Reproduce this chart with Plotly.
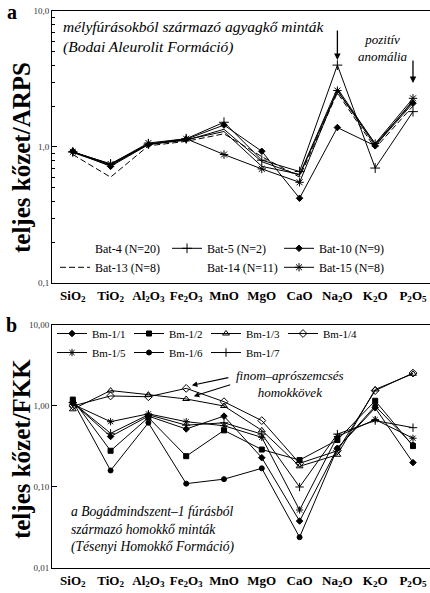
import plotly.graph_objects as go

# ---------------- data ----------------
categories = ["SiO2", "TiO2", "Al2O3", "Fe2O3", "MnO", "MgO", "CaO", "Na2O", "K2O", "P2O5"]
tick_labels = ["SiO<sub>2</sub>", "TiO<sub>2</sub>", "Al<sub>2</sub>O<sub>3</sub>", "Fe<sub>2</sub>O<sub>3</sub>",
               "MnO", "MgO", "CaO", "Na<sub>2</sub>O", "K<sub>2</sub>O", "P<sub>2</sub>O<sub>5</sub>"]

# panel a: teljes kőzet / ARPS
bat4 = [0.92, 0.74, 1.05, 1.12, 1.35, 0.78, 0.62, 2.60, 1.02, 2.20]
bat5 = [0.92, 0.75, 1.05, 1.15, 1.52, 0.80, 0.66, 4.00, 0.70, 1.82]
bat10 = [0.93, 0.72, 1.04, 1.14, 1.45, 0.93, 0.42, 1.39, 1.02, 2.10]
bat13 = [0.88, 0.60, 1.02, 1.10, 1.25, 0.85, 0.60, 2.50, 0.98, 2.00]
bat14 = [0.91, 0.73, 1.05, 1.13, 1.30, 0.72, 0.63, 2.70, 1.05, 2.15]
bat15 = [0.92, 0.75, 1.07, 1.15, 0.88, 0.69, 0.55, 2.60, 1.06, 2.28]

# panel b: teljes kőzet / FKK
bm1 = [1.10, 0.42, 0.75, 0.52, 0.75, 0.23, 0.038, 0.30, 0.95, 0.20]
bm2 = [1.20, 0.28, 0.72, 0.24, 0.50, 0.29, 0.215, 0.38, 1.16, 0.32]
bm3 = [0.91, 1.55, 1.38, 1.22, 1.00, 0.50, 0.18, 0.25, 1.60, 2.50]
bm4 = [1.00, 1.33, 1.30, 1.65, 1.13, 0.66, 0.196, 0.28, 1.55, 2.55]
bm5 = [1.05, 0.64, 0.80, 0.64, 0.57, 0.41, 0.052, 0.42, 0.68, 0.40]
bm6 = [1.15, 0.16, 0.62, 0.11, 0.125, 0.17, 0.024, 0.30, 1.00, 0.33]
bm7 = [1.10, 0.46, 0.78, 0.58, 0.62, 0.45, 0.10, 0.45, 0.66, 0.54]

top_ticks = [0.1, 1, 10]
top_ticktext = ["0,1", "1,0", "10,0"]
bot_ticks = [0.01, 0.1, 1, 10]
bot_ticktext = ["0,01", "0,10", "1,00", "10,00"]

SERIF = "Liberation Serif"
fig = go.Figure()


def add(y, name, ax, legend, rank, symbol=None, size=6, dash="solid", show=True, lw=1):
    mode = "lines+markers" if symbol else "lines"
    mk = dict(symbol=symbol, size=size, color="black", line=dict(color="black", width=1)) if symbol else None
    fig.add_trace(go.Scatter(
        x=categories, y=y, name=name, mode=mode, marker=mk,
        line=dict(color="black", width=lw, dash=dash),
        xaxis="x" if ax == 1 else "x2", yaxis="y" if ax == 1 else "y2",
        legend=legend, legendrank=rank, showlegend=show, cliponaxis=False))


def add_blank_legend(name, legend, rank):
    fig.add_trace(go.Scatter(x=[None], y=[None], name=name, mode="lines",
                             line=dict(color="white", width=0), legend=legend, legendrank=rank,
                             xaxis="x", yaxis="y"))


# panel a traces
add(bat4, "Bat-4 (N=20)", 1, "legend", 1, show=False)
add_blank_legend("Bat-4 (N=20)", "legend", 1)
add(bat5, "Bat-5 (N=2)", 1, "legend", 2, symbol="cross-thin", size=7)
add(bat10, "Bat-10 (N=9)", 1, "legend", 3, symbol="diamond", size=5)
add(bat13, "Bat-13 (N=8)", 1, "legend", 4, dash="6px,3px")
add(bat14, "Bat-14 (N=11)", 1, "legend", 5, show=False)
add_blank_legend("Bat-14 (N=11)", "legend", 5)
add(bat15, "Bat-15 (N=8)", 1, "legend", 6, symbol="asterisk", size=7)

# panel b traces
add(bm1, "Bm-1/1", 2, "legend2", 1, symbol="diamond", size=5)
add(bm2, "Bm-1/2", 2, "legend2", 2, symbol="square", size=5)
add(bm3, "Bm-1/3", 2, "legend2", 3, symbol="triangle-up-open", size=6)
add(bm4, "Bm-1/4", 2, "legend2", 4, symbol="diamond-open", size=6)
add(bm5, "Bm-1/5", 2, "legend2", 5, symbol="asterisk", size=6)
add(bm6, "Bm-1/6", 2, "legend2", 6, symbol="circle", size=5)
add(bm7, "Bm-1/7", 2, "legend2", 7, symbol="cross-thin", size=6)

xcommon = dict(type="category", range=[-0.55, 9.45], showline=True, linecolor="black", linewidth=1,
               mirror=True, ticks="", showgrid=False, zeroline=False,
               tickvals=categories, ticktext=tick_labels,
               tickfont=dict(family=SERIF, size=13, color="black", weight="bold"))
ycommon = dict(type="log", showline=True, linecolor="black", linewidth=1, ticks="inside", ticklen=5,
               tickcolor="black", showgrid=False, zeroline=False,
               tickfont=dict(family=SERIF, size=9, color="#333"))

fig.update_layout(
    width=430, height=593, margin=dict(l=52, r=0, t=11, b=25),
    paper_bgcolor="white", plot_bgcolor="white",
    xaxis=dict(**xcommon, anchor="y"),
    yaxis=dict(**ycommon, domain=[0.5117, 1.0], range=[-1, 1], tickvals=top_ticks, ticktext=top_ticktext,
               minor=dict(ticks="inside", ticklen=3, tickcolor="black",
                          tickvals=[0.2, 0.3, 0.4, 0.5, 0.6, 0.7, 0.8, 0.9, 2, 3, 4, 5, 6, 7, 8, 9])),
    xaxis2=dict(**xcommon, anchor="y2"),
    yaxis2=dict(**ycommon, domain=[0.0, 0.4363], range=[-2, 1], tickvals=bot_ticks, ticktext=bot_ticktext,
                minor=dict(ticks="", tickvals=[])),
    legend=dict(orientation="h", x=0.008, xanchor="left", y=0.600, yanchor="top",
                entrywidth=67, entrywidthmode="pixels", bgcolor="rgba(0,0,0,0)",
                font=dict(family=SERIF, size=12, color="black"), traceorder="normal"),
    legend2=dict(orientation="h", x=0.0, xanchor="left", y=0.447, yanchor="top",
                 entrywidth=32, entrywidthmode="pixels", bgcolor="rgba(0,0,0,0)",
                 font=dict(family=SERIF, size=11, color="black"), traceorder="normal"),
    showlegend=True,
)

shapes = [
    dict(type="line", xref="x domain", yref="y", x0=0, x1=1, y0=0, y1=0, line=dict(color="black", width=2)),
    dict(type="line", xref="x2 domain", yref="y2", x0=0, x1=1, y0=0, y1=0, line=dict(color="black", width=2)),
]
fig.update_layout(shapes=shapes)

ann = [
    dict(text="a", xref="paper", yref="paper", x=-0.106, y=0.998, xanchor="center", yanchor="middle",
         showarrow=False, font=dict(family=SERIF, size=20, color="black", weight="bold")),
    dict(text="b", xref="paper", yref="paper", x=-0.106, y=0.437, xanchor="center", yanchor="middle",
         showarrow=False, font=dict(family=SERIF, size=20, color="black", weight="bold")),
    dict(text="teljes kőzet/ARPS", xref="paper", yref="y domain", x=-0.079, y=0.46, textangle=-90,
         xanchor="center", yanchor="middle",
         showarrow=False, font=dict(family=SERIF, size=25, color="black", weight="bold")),
    dict(text="teljes kőzet/FKK", xref="paper", yref="y2 domain", x=-0.079, y=0.49, textangle=-90,
         xanchor="center", yanchor="middle",
         showarrow=False, font=dict(family=SERIF, size=25, color="black", weight="bold")),
    dict(text="mélyfúrásokból származó agyagkő minták<br>(Bodai Aleurolit Formáció)",
         xref="x domain", yref="y domain", x=0.025, y=0.905, xanchor="left", yanchor="middle",
         align="left", showarrow=False,
         font=dict(family=SERIF, size=15.5, color="black", style="italic")),
    dict(text="pozitív<br>anomália", xref="x domain", yref="y domain", x=0.876, y=0.865,
         xanchor="center", yanchor="middle", align="center", showarrow=False,
         font=dict(family=SERIF, size=13, color="black", style="italic")),
    dict(text="", xref="x", yref="y", x="Na2O", y=0.64, ax=0, ay=-31, showarrow=True,
         arrowhead=2, arrowsize=1, arrowwidth=1.3, arrowcolor="black"),
    dict(text="", xref="x", yref="y", x="P2O5", y=0.47, ax=0, ay=-24, showarrow=True,
         arrowhead=2, arrowsize=1, arrowwidth=1.3, arrowcolor="black"),
    dict(text="finom–aprószemcsés<br>homokkövek", xref="x2 domain", yref="y2 domain", x=0.63, y=0.757,
         xanchor="center", yanchor="middle", align="center", showarrow=False,
         font=dict(family=SERIF, size=13, color="black", style="italic")),
    dict(text="", xref="x2", yref="y2", x=3.15, y=0.255, ax=38, ay=-8, showarrow=True,
         arrowhead=2, arrowsize=1, arrowwidth=1.1, arrowcolor="black"),
    dict(text="", xref="x2", yref="y2", x=3.2, y=0.12, ax=38, ay=-12, showarrow=True,
         arrowhead=2, arrowsize=1, arrowwidth=1.1, arrowcolor="black"),
    dict(text="a Bogádmindszent–1 fúrásból<br>származó homokkő minták<br>(Tésenyi Homokkő Formáció)",
         xref="x2 domain", yref="y2 domain", x=0.045, y=0.16, xanchor="left", yanchor="middle",
         align="left", showarrow=False,
         font=dict(family=SERIF, size=13.6, color="black", style="italic")),
]
fig.update_layout(annotations=ann)

fig.write_html("out.html", config={"displayModeBar": False},
               post_script="document.body.style.margin='0';document.body.style.overflow='hidden';")
